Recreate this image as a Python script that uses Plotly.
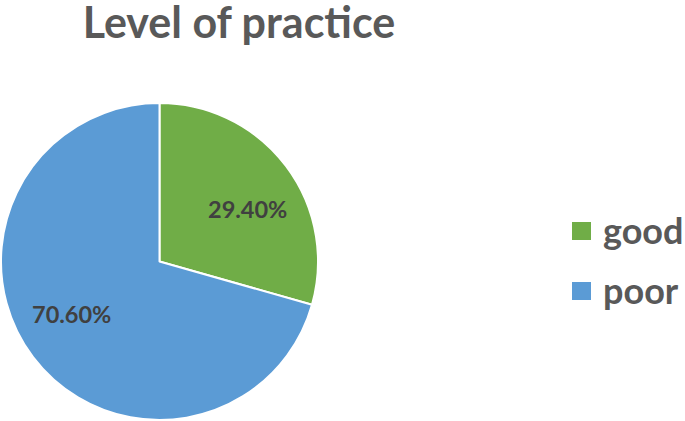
import math
import plotly.graph_objects as go

categories = ["good", "poor"]
values = [29.4, 70.6]
colors = ["#70AD47", "#5B9BD5"]

W, H = 685, 421
CX, CY, R = 159.5, 261.5, 158.5  # pie centre / radius in pixels (layout)

fig = go.Figure()
fig.add_trace(go.Pie(
    labels=categories,
    values=values,
    sort=False,
    direction="clockwise",
    rotation=0,
    marker=dict(colors=colors, line=dict(color="white", width=2)),
    textinfo="none",
    hoverinfo="label+percent",
    showlegend=False,
    domain=dict(x=[(CX - R) / W, (CX + R) / W], y=[(H - CY - R) / H, (H - CY + R) / H]),
))

# data labels placed at slice mid-angles (derived from values)
total = sum(values)
cum = 0.0
for v in values:
    mid = (cum + v / 2) / total * 360 + 6
    cum += v
    px = CX + 0.645 * R * math.sin(math.radians(mid))
    py = CY - 0.645 * R * math.cos(math.radians(mid))
    fig.add_annotation(text=f"{v:.2f}%", xref="paper", yref="paper", x=px / W, y=1 - py / H,
                       xanchor="center", yanchor="middle", showarrow=False,
                       font=dict(family="Lato", size=23.5, color="#404040", weight="bold"))

# custom legend (large squares as in reference)
leg_y = [231, 291]
for cat, col, yy in zip(categories, colors, leg_y):
    fig.add_shape(type="rect", xref="paper", yref="paper",
                  x0=572 / W, x1=591 / W, y0=1 - (yy + 9) / H, y1=1 - (yy - 9) / H,
                  fillcolor=col, line=dict(width=0))
    fig.add_annotation(text=cat, xref="paper", yref="paper", x=601 / W, y=1 - (yy - 1) / H,
                       xanchor="left", yanchor="middle", showarrow=False,
                       font=dict(family="Lato", size=36, color="#595959", weight="bold"))

fig.update_layout(
    width=W, height=H,
    margin=dict(l=0, r=0, t=0, b=0),
    paper_bgcolor="white", plot_bgcolor="white",
    title=dict(text="Level of practice", x=239 / W, xanchor="center", y=1 - 22.5 / H, yanchor="middle",
               font=dict(family="Lato", size=43, color="#595959", weight="bold")),
)
fig.write_html("out.html", config={"displayModeBar": False},
               post_script="document.body.style.margin='0';")
